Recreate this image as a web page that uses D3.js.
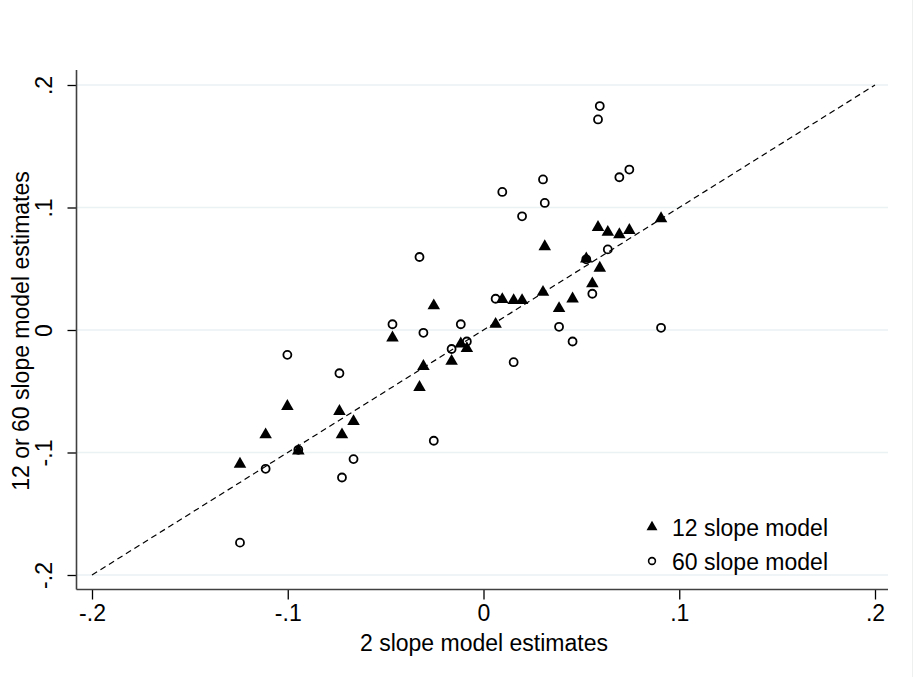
<!DOCTYPE html>
<html>
<head>
<meta charset="utf-8">
<script src="https://cdn.jsdelivr.net/npm/d3@7"></script>
<style>
  html, body { margin: 0; padding: 0; background: #ffffff; }
  svg { display: block; font-family: "Liberation Sans", Arial, sans-serif; }
</style>
</head>
<body>
<svg id="chart" width="915" height="677"></svg>
<script>
// 2-slope model estimates (x) against the 12-slope and 60-slope estimates (y)
const slope2 = [-0.1244, -0.1113, -0.1002, -0.0946, -0.0736, -0.0723, -0.0664, -0.0465,
  -0.0327, -0.0307, -0.0254, -0.0163, -0.0116, -0.0085, 0.0062, 0.0096, 0.0154, 0.0197,
  0.0304, 0.0313, 0.0386, 0.0455, 0.0525, 0.0556, 0.0585, 0.0594, 0.0635, 0.0694, 0.0745, 0.0907];
const slope12 = [-0.1094, -0.0855, -0.0623, -0.0986, -0.0664, -0.0855, -0.0746, -0.0064,
  -0.0468, -0.0296, 0.0198, -0.0255, -0.0113, -0.0150, 0.0047, 0.0249, 0.0241, 0.0241,
  0.0309, 0.0681, 0.0176, 0.0255, 0.0581, 0.0378, 0.0838, 0.0506, 0.0798, 0.0779, 0.0814, 0.0910];
const slope60 = [-0.1736, -0.1133, -0.0203, -0.0978, -0.0353, -0.1204, -0.1054, 0.0047,
  0.0596, -0.0023, -0.0904, -0.0155, 0.0047, -0.0094, 0.0255, 0.1127, -0.0263, 0.0928,
  0.1229, 0.1037, 0.0026, -0.0094, 0.0577, 0.0296, 0.1719, 0.1828, 0.0658, 0.1247, 0.1310, 0.0018];

const tickValues = [-0.2, -0.1, 0, 0.1, 0.2];
const tickLabels = ["-.2", "-.1", "0", ".1", ".2"];
const seriesNames = ["12 slope model", "60 slope model"];
const xTitle = "2 slope model estimates";
const yTitle = "12 or 60 slope model estimates";

const svg = d3.select("#chart");
const W = 915, H = 677;
const plot = { left: 76.5, right: 888, top: 70, bottom: 589.5 };
const FONT = 23;

const x = d3.scaleLinear().domain([-0.2, 0.2]).range([92, 875]);
const y = d3.scaleLinear().domain([-0.2, 0.2]).range([575, 85]);

// faint outer border on the right edge of the graph region
svg.append("line")
  .attr("x1", 912.5).attr("x2", 912.5).attr("y1", 0).attr("y2", H)
  .attr("stroke", "#eef0f0").attr("stroke-width", 1);

// horizontal grid lines
svg.append("g").selectAll("line").data(tickValues).join("line")
  .attr("x1", plot.left).attr("x2", plot.right)
  .attr("y1", d => y(d)).attr("y2", d => y(d))
  .attr("stroke", "#eaf2f3").attr("stroke-width", 1.6);

// 45-degree reference line
svg.append("line")
  .attr("x1", x(-0.2)).attr("y1", y(-0.2))
  .attr("x2", x(0.2)).attr("y2", y(0.2))
  .attr("stroke", "#000").attr("stroke-width", 1.2)
  .attr("stroke-dasharray", "6,4");

// axes
const fmt = d => tickLabels[tickValues.indexOf(d)];
const xAxis = svg.append("g")
  .attr("transform", `translate(0,${plot.bottom})`)
  .call(d3.axisBottom(x).tickValues(tickValues).tickFormat(fmt).tickSize(10).tickPadding(5));
const yAxis = svg.append("g")
  .attr("transform", `translate(${plot.left},0)`)
  .call(d3.axisLeft(y).tickValues(tickValues).tickFormat(fmt).tickSize(9).tickPadding(6));

[xAxis, yAxis].forEach(g => {
  g.select(".domain").remove();
  g.selectAll(".tick line").attr("stroke", "#000").attr("stroke-width", 1.3);
  g.selectAll(".tick text")
    .attr("fill", "#000")
    .style("font-family", '"Liberation Sans", Arial, sans-serif')
    .style("font-size", FONT + "px");
});
yAxis.selectAll(".tick text")
  .attr("transform", "rotate(-90)")
  .attr("x", 0).attr("y", -25).attr("dy", null)
  .attr("text-anchor", "middle");

svg.append("line")
  .attr("x1", plot.left).attr("x2", plot.right)
  .attr("y1", plot.bottom).attr("y2", plot.bottom)
  .attr("stroke", "#404040").attr("stroke-width", 1.6);
svg.append("line")
  .attr("x1", plot.left).attr("x2", plot.left)
  .attr("y1", plot.top).attr("y2", plot.bottom)
  .attr("stroke", "#404040").attr("stroke-width", 1.6);

// axis titles
svg.append("text")
  .attr("x", 484).attr("y", 651)
  .attr("text-anchor", "middle")
  .style("font-size", FONT + "px")
  .text(xTitle);
svg.append("text")
  .attr("transform", `translate(28.5,331) rotate(-90)`)
  .attr("text-anchor", "middle")
  .style("font-size", FONT + "px")
  .text(yTitle);

// markers
const tri = d3.symbol().type(d3.symbolTriangle).size(68);
const pts12 = slope2.map((v, i) => ({ x: v, y: slope12[i] }));
const pts60 = slope2.map((v, i) => ({ x: v, y: slope60[i] }));

svg.append("g").selectAll("path").data(pts12).join("path")
  .attr("d", tri)
  .attr("transform", d => `translate(${x(d.x)},${y(d.y)})`)
  .attr("fill", "#000");

svg.append("g").selectAll("circle").data(pts60).join("circle")
  .attr("cx", d => x(d.x)).attr("cy", d => y(d.y))
  .attr("r", 4)
  .attr("fill", "none").attr("stroke", "#000").attr("stroke-width", 1.8);

// legend
const legend = svg.append("g");
legend.append("path").attr("d", d3.symbol().type(d3.symbolTriangle).size(52))
  .attr("transform", "translate(652,527)").attr("fill", "#000");
legend.append("circle").attr("cx", 652).attr("cy", 561).attr("r", 3.4)
  .attr("fill", "none").attr("stroke", "#000").attr("stroke-width", 1.6);
legend.selectAll("text").data(seriesNames).join("text")
  .attr("x", 672).attr("y", (d, i) => 535.5 + i * 34)
  .style("font-size", FONT + "px")
  .text(d => d);
</script>
</body>
</html>
